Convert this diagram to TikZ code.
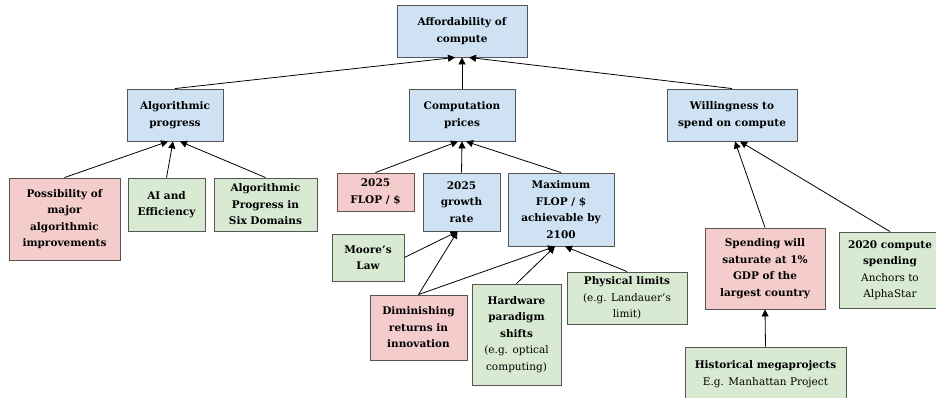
\documentclass[tikz,border=0pt]{standalone}
\usepackage{fontspec}
\setmainfont{DejaVu Serif}
\usetikzlibrary{arrows.meta,calc}
\definecolor{bluebox}{HTML}{CFE2F3}
\definecolor{pinkbox}{HTML}{F4CCCC}
\definecolor{greenbox}{HTML}{D9EAD3}
\definecolor{edgegray}{HTML}{555555}
\tikzset{
  box/.style={draw=edgegray, line width=0.9pt, inner sep=0pt, align=center,
    font=\fontsize{10.5}{16.5}\selectfont\bfseries},
  bluen/.style={box, fill=bluebox},
  pinkn/.style={box, fill=pinkbox},
  greenn/.style={box, fill=greenbox},
  arr/.style={-{Triangle[length=7pt,width=7pt]}, line width=0.8pt, black},
}
\newcommand{\bx}[7]{% name, style, x1, y1, x2, y2, text
  \node[#2, minimum width={#5-#3}, minimum height={#6-#4}] (#1) at ({(#3+#5)/2},{-(#4+#6)/2}) {#7};}
\begin{document}
\begin{tikzpicture}[x=1pt,y=1pt]
\clip (0,0) rectangle (936,-398);
\fill[white] (0,0) rectangle (936,-398);
\bx{top}{bluen}{397}{5}{527}{57}{Affordability of\\compute}
\bx{alg}{bluen}{127}{89}{223}{141}{Algorithmic\\progress}
\bx{comp}{bluen}{409}{89}{515}{141}{Computation\\prices}
\bx{will}{bluen}{667}{89}{797}{141}{Willingness to\\spend on compute}
\bx{poss}{pinkn}{9}{178}{120}{260}{Possibility of\\major\\algorithmic\\improvements}
\bx{aieff}{greenn}{128}{178}{205}{231}{AI and\\Efficiency}
\bx{six}{greenn}{214}{178}{317}{231}{Algorithmic\\Progress in\\Six Domains}
\bx{flop}{pinkn}{337}{173}{414}{211}{2025\\FLOP / \$}
\bx{growth}{bluen}{423}{173}{500}{231}{2025\\growth\\rate}
\bx{moore}{greenn}{332}{234}{404}{281}{Moore’s\\Law}
\bx{dimin}{pinkn}{370}{295}{467}{360}{Diminishing\\returns in\\innovation}
\bx{maxflop}{bluen}{508}{173}{614}{246}{Maximum\\FLOP / \$\\achievable by\\2100}
\bx{hard}{greenn}{472}{284}{561}{385}{Hardware\\paradigm\\shifts\\\mdseries(e.g. optical\\\mdseries computing)}
\bx{phys}{greenn}{567}{272}{687}{324}{Physical limits\\\mdseries(e.g. Landauer’s\\\mdseries limit)}
\bx{spend}{pinkn}{705}{228}{825}{309}{Spending will\\saturate at 1\%\\GDP of the\\largest country}
\bx{y2020}{greenn}{839}{232}{941}{308}{2020 compute\\spending\\\mdseries Anchors to\\\mdseries AlphaStar}
\bx{hist}{greenn}{685}{347}{846}{401}{Historical megaprojects\\\mdseries E.g. Manhattan Project}
% connectors
\draw[arr] (alg.north) -- ($(top.south)+(-7,0)$);
\draw[arr] (comp.north) -- (top.south);
\draw[arr] (will.north) -- ($(top.south)+(7,0)$);
\draw[arr] (poss.north) -- ($(alg.south)+(-7,0)$);
\draw[arr] (aieff.north) -- ($(alg.south)+(-2,0)$);
\draw[arr] (six.north) -- ($(alg.south)+(5,0)$);
\draw[arr] (flop.north) -- ($(comp.south)+(-4,0)$);
\draw[arr] (growth.north) -- (comp.south);
\draw[arr] (maxflop.north) -- ($(comp.south)+(4,0)$);
\draw[arr] (moore.east) -- ($(growth.south)+(-4,0)$);
\draw[arr] (dimin.north) -- ($(growth.south)+(-4,0)$);
\draw[arr] (dimin.north) -- ($(maxflop.south)+(-6,0)$);
\draw[arr] (hard.north) -- ($(maxflop.south)+(-6,0)$);
\draw[arr] (phys.north) -- ($(maxflop.south)+(4,0)$);
\draw[arr] (spend.north) -- ($(will.south)+(3,0)$);
\draw[arr] (y2020.north) -- ($(will.south)+(8,0)$);
\draw[arr] (hist.north) -- (spend.south);
\end{tikzpicture}
\end{document}
